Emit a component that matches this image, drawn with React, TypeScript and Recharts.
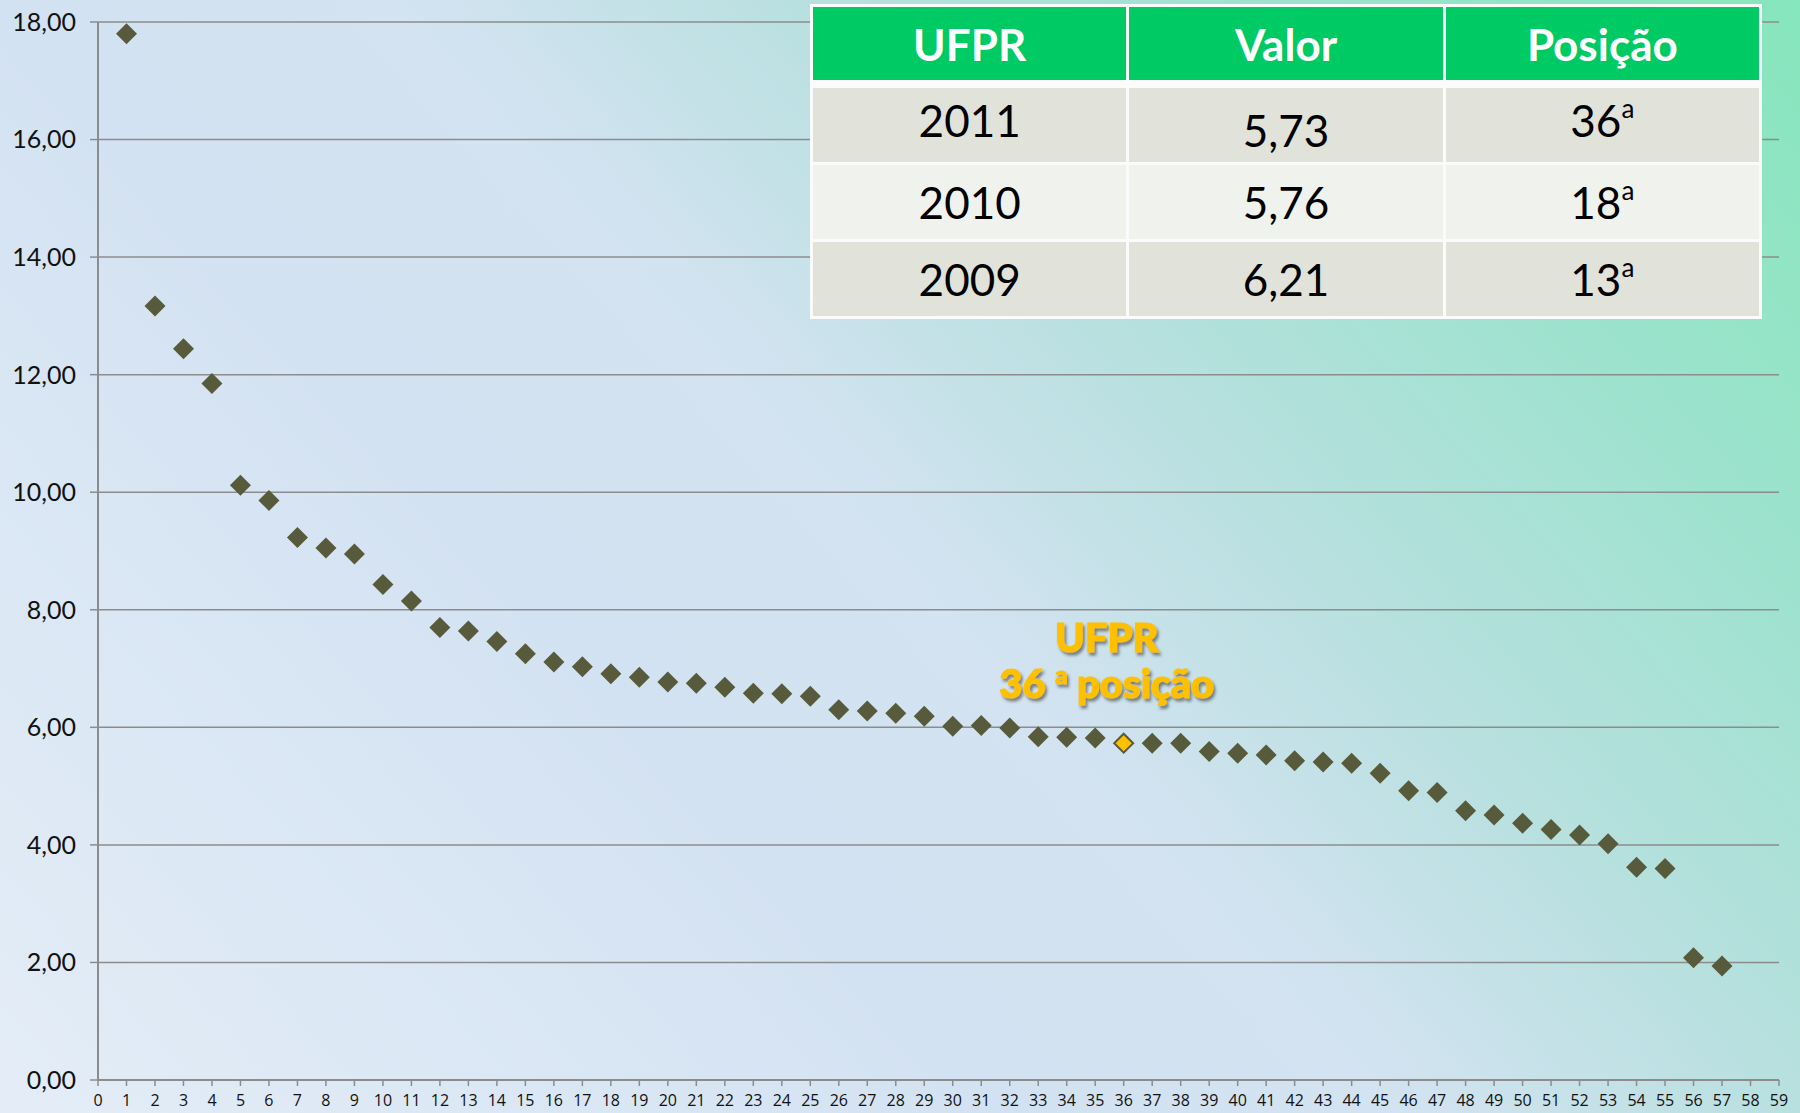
import React from 'react';
import { ScatterChart, Scatter, XAxis, YAxis, CartesianGrid } from 'recharts';

// indicador por universidade, ordenado (posição 1..57)
const values = [
  17.8, 13.17, 12.44, 11.85, 10.12, 9.86, 9.23, 9.05, 8.95, 8.43,
  8.15, 7.7, 7.64, 7.46, 7.25, 7.11, 7.03, 6.91, 6.85, 6.77,
  6.75, 6.68, 6.58, 6.57, 6.53, 6.3, 6.28, 6.24, 6.19, 6.02,
  6.03, 5.99, 5.84, 5.83, 5.82, 5.73, 5.73, 5.73, 5.59, 5.56,
  5.53, 5.43, 5.41, 5.39, 5.22, 4.92, 4.89, 4.58, 4.51, 4.37,
  4.26, 4.17, 4.02, 3.62, 3.6, 2.08, 1.94,
];
const ufprPosition = 36;

const xTicks = [
  0, 1, 2, 3, 4, 5, 6, 7, 8, 9, 10, 11, 12, 13, 14, 15, 16, 17, 18, 19,
  20, 21, 22, 23, 24, 25, 26, 27, 28, 29, 30, 31, 32, 33, 34, 35, 36, 37, 38, 39,
  40, 41, 42, 43, 44, 45, 46, 47, 48, 49, 50, 51, 52, 53, 54, 55, 56, 57, 58, 59,
];
const yTicks = [0, 2, 4, 6, 8, 10, 12, 14, 16, 18];

const tableHeader = ['UFPR', 'Valor', 'Posição'];
const tableYears = ['2011', '2010', '2009'];
const tableValues = ['5,73', '5,76', '6,21'];
const tablePositions = ['36', '18', '13'];

const points = values.map((v, i) => ({ x: i + 1, y: v }));
const others = points.filter((p) => p.x !== ufprPosition);
const ufpr = points.filter((p) => p.x === ufprPosition);

const GRID = '#8c8c8c';
const DOT = '#575b3c';

const Diamond = (props: any) => {
  const { cx, cy } = props;
  const h = 10.5;
  return (
    <path
      d={`M${cx},${cy - h}L${cx + h},${cy}L${cx},${cy + h}L${cx - h},${cy}Z`}
      fill={DOT}
    />
  );
};

const UfprMark = (props: any) => {
  const { cx, cy } = props;
  const h = 9.5;
  return (
    <g>
      <defs>
        <filter id="txtShadow" x="-20%" y="-40%" width="140%" height="180%">
          <feDropShadow dx="2" dy="3" stdDeviation="1.5" floodColor="#3a3a3a" floodOpacity="0.6" />
        </filter>
      </defs>
      <path
        d={`M${cx},${cy - h}L${cx + h},${cy}L${cx},${cy + h}L${cx - h},${cy}Z`}
        fill="#ffc000"
        stroke={DOT}
        strokeWidth={2}
      />
      <text
        x={cx - 17}
        textAnchor="middle"
        fill="#ffc000"
        stroke="#ffc000"
        strokeWidth={1.2}
        fontFamily="Lato, sans-serif"
        fontWeight={900}
        fontSize={40}
        filter="url(#txtShadow)"
      >
        <tspan x={cx - 17} y={cy - 91}>UFPR</tspan>
        <tspan x={cx - 17} y={cy - 45}>
          36 <tspan fontSize={24} dy={-14}>a</tspan>
          <tspan dy={14}> posição</tspan>
        </tspan>
      </text>
    </g>
  );
};

const cell: React.CSSProperties = {
  display: 'flex',
  alignItems: 'center',
  justifyContent: 'center',
  fontFamily: 'Lato, sans-serif',
};

export default function App() {
  return (
    <div
      style={{
        position: 'absolute',
        left: 0,
        top: 0,
        width: 1800,
        height: 1113,
        overflow: 'hidden',
        background:
          'linear-gradient(48deg, #e4edf7 0%, #d3e2f2 36%, #d3e3f1 50%, #b9e0e0 64%, #9fe2cf 80%, #86e6bc 100%)',
      }}
    >
      <ScatterChart width={1800} height={1113} margin={{ top: 22, right: 21, bottom: 0, left: 0 }}>
        <CartesianGrid vertical={false} stroke={GRID} strokeWidth={1.5} />
        <XAxis
          type="number"
          dataKey="x"
          domain={[0, 59]}
          ticks={xTicks}
          interval={0}
          height={33}
          tickSize={6}
          tickMargin={9}
          axisLine={{ stroke: GRID, strokeWidth: 2 }}
          tickLine={{ stroke: GRID, strokeWidth: 1.5 }}
          tick={{ fontSize: 16, fill: '#111', fontFamily: '"Open Sans", sans-serif' }}
        />
        <YAxis
          type="number"
          dataKey="y"
          domain={[0, 18]}
          ticks={yTicks}
          width={98}
          tickSize={8}
          tickMargin={14}
          axisLine={{ stroke: GRID, strokeWidth: 2 }}
          tickLine={{ stroke: GRID, strokeWidth: 1.5 }}
          tick={{ fontSize: 25, fill: '#111', fontFamily: 'Lato, sans-serif' }}
          tickFormatter={(v: number) => v.toFixed(2).replace('.', ',')}
        />
        <Scatter data={others} shape={<Diamond />} isAnimationActive={false} />
        <Scatter data={ufpr} shape={<UfprMark />} isAnimationActive={false} />
      </ScatterChart>

      <div
        style={{
          position: 'absolute',
          left: 810,
          top: 4,
          width: 952,
          padding: 3,
          boxSizing: 'border-box',
          background: '#fbfbfb',
          display: 'grid',
          gridTemplateColumns: '1fr 1fr 1fr',
          gridTemplateRows: '78px 74px 74px 74px',
          columnGap: 3,
          rowGap: 3,
        }}
      >
        {tableHeader.map((h) => (
          <div
            key={h}
            style={{
              ...cell,
              background: '#00ca63',
              color: '#fff',
              fontWeight: 700,
              fontSize: 44,
              marginBottom: 5,
            }}
          >
            {h}
          </div>
        ))}
        {tableYears.map((year, i) => {
          const bg = i % 2 === 0 ? '#e1e2d9' : '#f0f2ed';
          const base: React.CSSProperties = { ...cell, background: bg, fontSize: 44, color: '#000' };
          return (
            <React.Fragment key={year}>
              <div style={base}>
                <span style={{ marginTop: i === 0 ? -10 : 0 }}>{year}</span>
              </div>
              <div style={base}>
                <span style={{ marginTop: i === 0 ? 10 : 0 }}>{tableValues[i]}</span>
              </div>
              <div style={base}>
                <span style={{ marginTop: i === 0 ? -10 : 0 }}>
                  {tablePositions[i]}
                  <sup style={{ fontSize: 26, verticalAlign: 'top', position: 'relative', top: -2 }}>a</sup>
                </span>
              </div>
            </React.Fragment>
          );
        })}
      </div>
    </div>
  );
}
